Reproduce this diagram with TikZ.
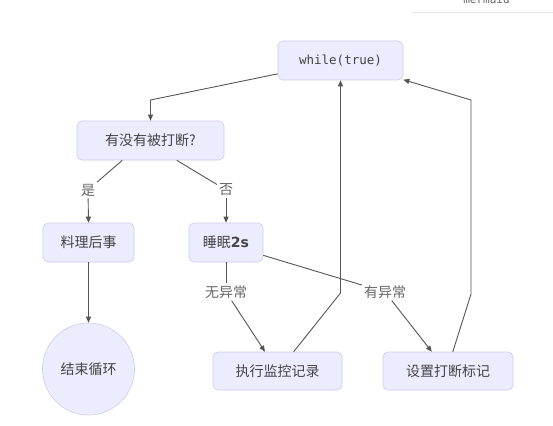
\documentclass[tikz,border=0pt]{standalone}
\usepackage{fontspec}
\setmainfont{Noto Sans CJK SC}
\newfontfamily\monof{DejaVu Sans Mono}
\newfontfamily\latf{DejaVu Sans}
\usetikzlibrary{arrows.meta}
\definecolor{nodefill}{HTML}{ECECFF}
\definecolor{nodeline}{HTML}{CFCBEF}
\definecolor{txt}{HTML}{444444}
\definecolor{lbl}{HTML}{666666}
\definecolor{edge}{HTML}{555555}
\tikzset{
  box/.style={draw=nodeline, line width=0.6pt, fill=nodefill, rounded corners=5pt,
    minimum height=39pt, inner sep=0pt, text=txt, font=\fontsize{14}{16}\selectfont},
  roundbox/.style={draw=nodeline, line width=0.6pt, fill=nodefill, circle,
    minimum size=92pt, inner sep=0pt, text=txt, font=\fontsize{14}{16}\selectfont},
  elabel/.style={inner sep=2pt, text=lbl, font=\fontsize{14}{16}\selectfont},
  conn/.style={draw=edge, line width=0.9pt},
  arr/.style={conn, -{Triangle[length=6pt,width=5pt]}}
}
\begin{document}
\begin{tikzpicture}[x=1pt,y=-1pt]
\useasboundingbox (0,0) rectangle (553,425);
\fill[white] (0,0) rectangle (553,425);
\begin{scope}
\clip (0,0) rectangle (553,425);
\node[anchor=base, text=lbl, font=\monof\fontsize{11}{12}\selectfont] (mm) at (486.5,4) {mermaid};
\end{scope}
\draw[color=black!10, line width=0.6pt] (412,12) -- (553,12);

% nodes
\node[box, minimum width=125pt, font=\monof\fontsize{12.5}{14}\selectfont] (w) at (340.5,60.5) {while(true)};
\node[box, minimum width=147pt] (q) at (150.5,140.5) {有没有被打断?};
\node[box, minimum width=91pt] (r) at (88.5,242.5) {料理后事};
\node[box, minimum width=74pt] (m) at (226,242.5) {睡眠{\latf\bfseries 2s}};
\node[roundbox] (c) at (88.5,369) {结束循环};
\node[box, minimum width=129pt, minimum height=38pt] (e) at (277.5,371) {执行监控记录};
\node[box, minimum width=130pt, minimum height=38pt] (s) at (448,371) {设置打断标记};

% edge labels
\node[elabel] (ly) at (88,190) {是};
\node[elabel] (ln) at (226,190) {否};
\node[elabel] (l1) at (226,292) {无异常};
\node[elabel] (l2) at (385,292) {有异常};

% corner points
\coordinate (c1) at (150.5,100);
\coordinate (c2) at (340.5,293);
\coordinate (c3) at (471,294);
\coordinate (c4) at (471,100);

% edges
\draw[arr] (w.192) -- (c1) -- (q.north);
\draw[conn] (q.215) -- (ly);
\draw[arr] (ly) -- (r.north);
\draw[conn] (q.323) -- (ln);
\draw[arr] (ln) -- (m.north);
\draw[arr] (r.south) -- (c.north);
\draw[conn] (m.south) -- (l1);
\draw[arr] (l1) -- (e.123);
\draw[conn] (m.341) -- (l2);
\draw[arr] (l2) -- (s.130);
\draw[arr] (e.50) -- (c2) -- (w.south);
\draw[arr] (s.76) -- (c3) -- (c4) -- (w.343);
\end{tikzpicture}
\end{document}
